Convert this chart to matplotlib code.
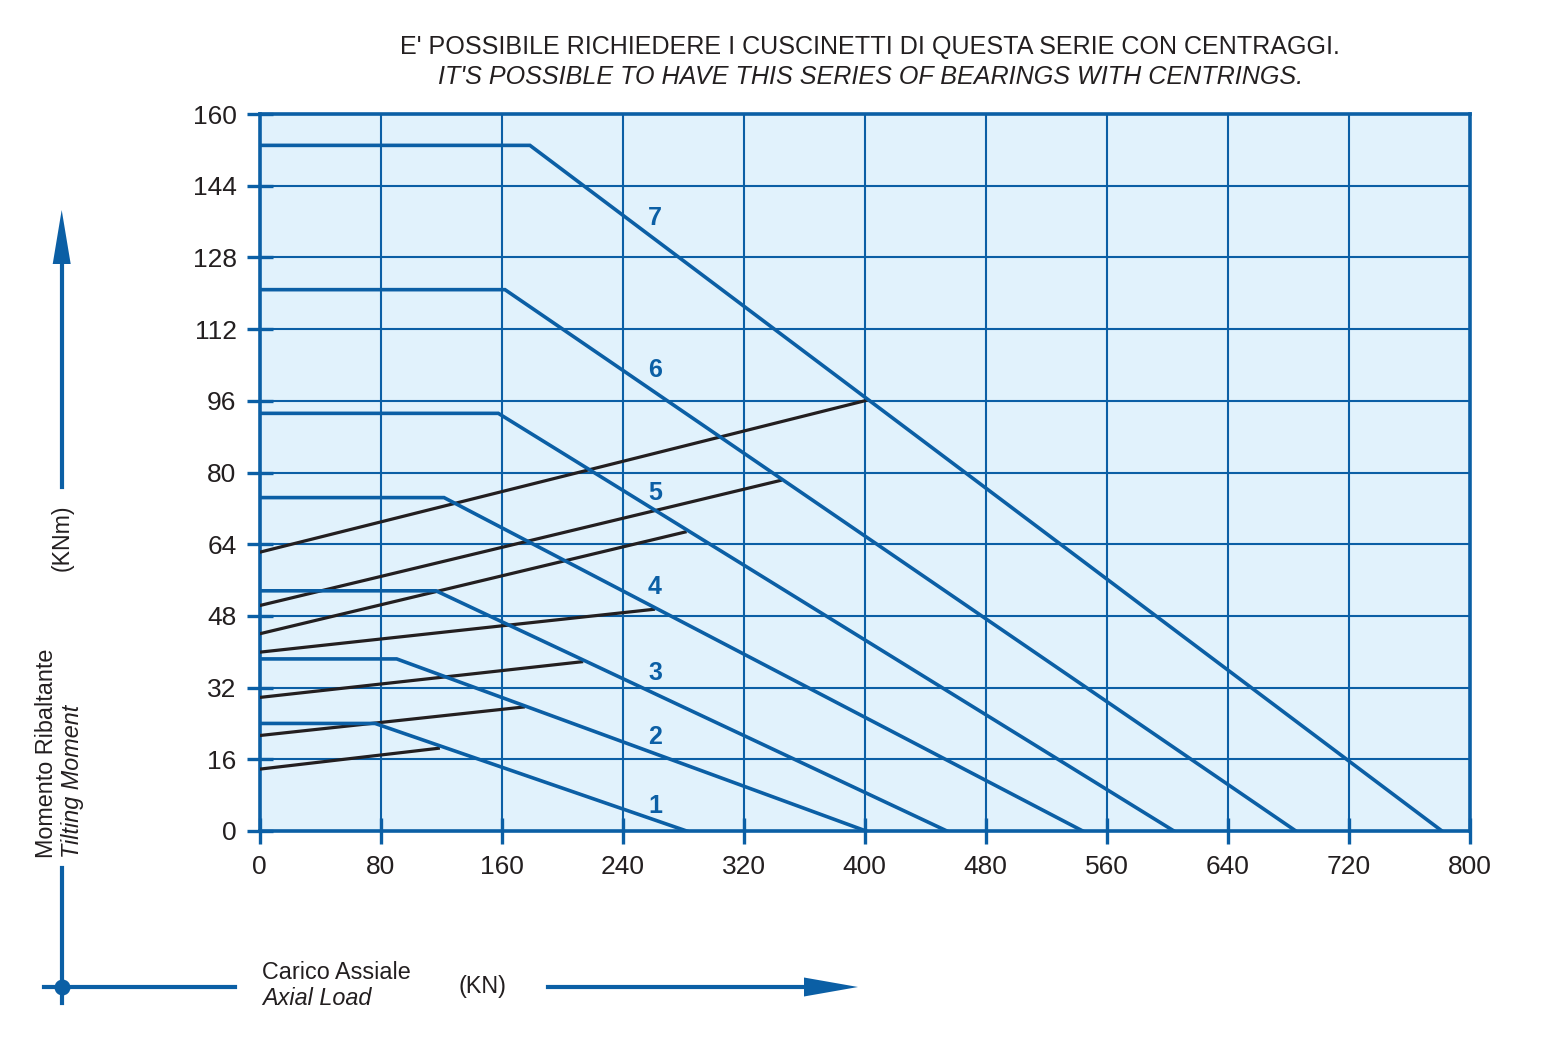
import matplotlib
matplotlib.use('Agg')
import matplotlib.pyplot as plt
from matplotlib.patches import Polygon

# ---------------- data ----------------
series_labels = ['1', '2', '3', '4', '5', '6', '7']
flat_moment = [24.0, 38.4, 53.6, 74.4, 93.2, 120.8, 153.0]      # KNm, flat part
knee_load = [76.4, 90.7, 116.7, 122.0, 157.9, 162.3, 178.8]     # KN, end of flat part
max_load = [282.4, 401.0, 454.5, 544.3, 604.6, 685.2, 781.8]    # KN, at zero moment

bolt_start_moment = [13.8, 21.3, 29.8, 39.9, 44.0, 50.3, 62.2]  # KNm at zero load
bolt_end_load = [119.3, 175.5, 214.0, 261.5, 282.4, 345.3, 402.5]
bolt_end_moment = [18.5, 27.7, 37.8, 49.5, 66.8, 78.3, 96.2]

label_load = 261.5
label_moment = [5.6, 21.0, 35.2, 54.4, 75.4, 102.9, 136.8]

x_ticks = [0, 80, 160, 240, 320, 400, 480, 560, 640, 720, 800]
y_ticks = [0, 16, 32, 48, 64, 80, 96, 112, 128, 144, 160]

title_it = "E' POSSIBILE RICHIEDERE I CUSCINETTI DI QUESTA SERIE CON CENTRAGGI."
title_en = "IT'S POSSIBLE TO HAVE THIS SERIES OF BEARINGS WITH CENTRINGS."

# ---------------- style ----------------
BLUE = '#0B5FA5'
BG = '#E1F2FC'
BLACK = '#231F20'
TXT = '#231F20'
plt.rcParams['font.family'] = ['Liberation Sans', 'DejaVu Sans']

W, H = 1541, 1045
fig = plt.figure(figsize=(W / 100, H / 100), dpi=100)
ax = fig.add_axes([259.5 / W, 214 / H, 1210 / W, 717 / H])
ax.set_facecolor(BG)
ax.set_xlim(0, 800)
ax.set_ylim(0, 160)
ax.set_xticks(x_ticks)
ax.set_yticks(y_ticks)
ax.set_axisbelow(True)
ax.grid(True, color=BLUE, lw=1.5)
for s in ax.spines.values():
    s.set_color(BLUE)
    s.set_linewidth(2.6)
ax.tick_params(direction='inout', length=19, width=2.4, color=BLUE,
               labelsize=19, labelcolor=TXT)
ax.tick_params(axis='x', pad=7.5)
ax.tick_params(axis='y', pad=7)

# black lines
for y0, x1, y1 in zip(bolt_start_moment, bolt_end_load, bolt_end_moment):
    ax.plot([0, x1], [y0, y1], color=BLACK, lw=2.3, solid_capstyle='butt', zorder=3)

# blue curves
for m, k, L in zip(flat_moment, knee_load, max_load):
    ax.plot([0, k, L], [m, m, 0], color=BLUE, lw=2.6, solid_joinstyle='miter', zorder=4)

for lab, ym in zip(series_labels, label_moment):
    ax.text(label_load, ym, lab, color=BLUE, fontsize=18, fontweight='bold',
            ha='center', va='center', zorder=5)

# ---------------- overlay decorations (pixel coords) ----------------
ov = fig.add_axes([0, 0, 1, 1])
ov.set_xlim(0, W)
ov.set_ylim(H, 0)
ov.axis('off')
ov.patch.set_alpha(0)

ov.text(870, 47, title_it, ha='center', va='center', fontsize=18.1, color=TXT,
        family=['Liberation Sans Narrow', 'Liberation Sans'])
ov.text(871, 77, title_en, ha='center', va='center', fontsize=18.1, color=TXT,
        style='italic', family=['Liberation Sans Narrow', 'Liberation Sans'])

# vertical arrow (y-axis)
ov.plot([61.7, 61.7], [487, 262], color=BLUE, lw=3)
ov.add_patch(Polygon([[52.7, 264], [70.7, 264], [61.7, 210]], closed=True,
                     color=BLUE, lw=0))
ov.text(62, 538, '(KNm)', rotation=90, ha='center', va='center', fontsize=16.7, color=TXT)
ov.text(47, 858, 'Momento Ribaltante', rotation=90, ha='center', va='bottom',
        fontsize=16.8, color=TXT)
ov.text(73, 858, 'Tilting Moment', rotation=90, ha='center', va='bottom',
        fontsize=16.8, color=TXT, style='italic')

# origin cross
ov.plot([61.7, 61.7], [868, 1003], color=BLUE, lw=3)
ov.plot([44, 235], [987, 987], color=BLUE, lw=3)
ov.scatter([61.7], [987], s=110, color=BLUE, zorder=5)

# horizontal arrow (x-axis)
ov.text(261.7, 972.5, 'Carico Assiale', ha='left', va='center', fontsize=16.8, color=TXT)
ov.text(261.7, 998.5, 'Axial Load', ha='left', va='center', fontsize=16.8, color=TXT,
        style='italic')
ov.text(483, 987, '(KN)', ha='center', va='center', fontsize=16.8, color=TXT)
ov.plot([548, 806], [987, 987], color=BLUE, lw=3)
ov.add_patch(Polygon([[804, 977.5], [804, 996.5], [858, 987]], closed=True,
                     color=BLUE, lw=0))

fig.savefig('out.png', dpi=100)
